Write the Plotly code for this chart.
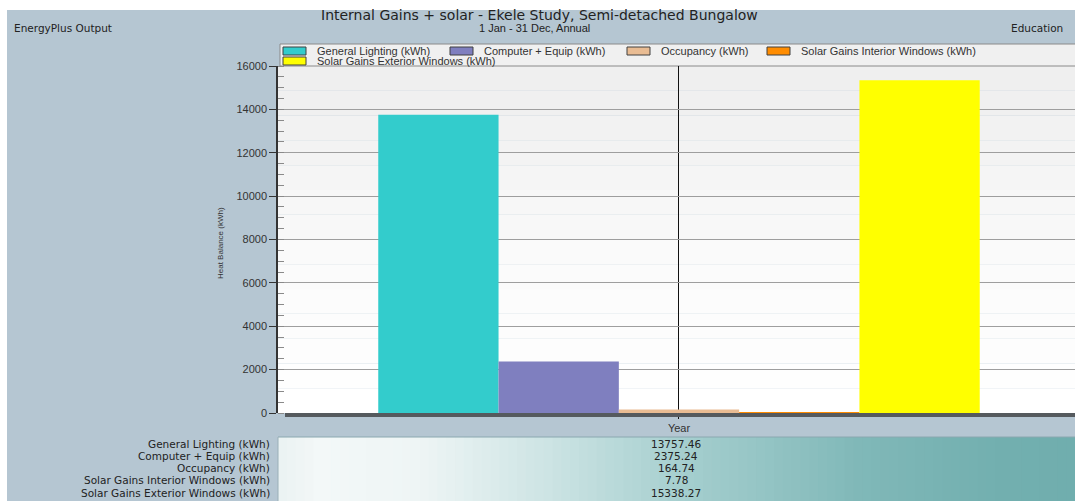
import plotly.graph_objects as go

# ---------------- data ----------------
categories = ["Year"]
series_names = [
    "General Lighting (kWh)",
    "Computer + Equip (kWh)",
    "Occupancy (kWh)",
    "Solar Gains Interior Windows (kWh)",
    "Solar Gains Exterior Windows (kWh)",
]
series_values = [13757.46, 2375.24, 164.74, 7.78, 15338.27]
series_colors = ["#33cccc", "#7f7fbf", "#e9bc93", "#ff8c00", "#ffff00"]
y_ticks = [0, 2000, 4000, 6000, 8000, 10000, 12000, 14000, 16000]

title_text = "Internal Gains + solar - Ekele Study, Semi-detached Bungalow"
subtitle_text = "1 Jan - 31 Dec, Annual"
left_header = "EnergyPlus Output"
right_header = "Education"
y_title = "Heat Balance (kWh)"

# ---------------- layout geometry (pixels) ----------------
W, H = 1075, 501
ML, MR, MT, MB = 278, 0, 66, 88
PW, PH = W - ML - MR, H - MT - MB
FONT = "Arial, Liberation Sans, sans-serif"
WIDE = "DejaVu Sans, Verdana, sans-serif"


def px(x):
    return (x - ML) / PW


def py(y):
    return (H - MB - y) / PH


def lerp_color(stops, x):
    for (x0, c0), (x1, c1) in zip(stops[:-1], stops[1:]):
        if x0 <= x <= x1:
            t = (x - x0) / (x1 - x0) if x1 > x0 else 0
            a = [int(c0[i:i + 2], 16) for i in (1, 3, 5)]
            b = [int(c1[i:i + 2], 16) for i in (1, 3, 5)]
            return "#%02x%02x%02x" % tuple(round(a[k] + (b[k] - a[k]) * t) for k in range(3))
    return stops[-1][1]


fig = go.Figure()
for name, val, col in zip(series_names, series_values, series_colors):
    fig.add_trace(go.Bar(
        x=categories, y=[val], name=name,
        marker=dict(color=col, line=dict(width=0)),
        showlegend=False,
        hovertemplate=name + ": %{y:.2f}<extra></extra>",
    ))

shapes = []
annotations = []

# white top / left strips
shapes.append(dict(type="rect", xref="paper", yref="paper", x0=px(0), x1=px(W), y0=py(10), y1=py(0),
                   fillcolor="#ffffff", line=dict(width=0), layer="below"))
shapes.append(dict(type="rect", xref="paper", yref="paper", x0=px(0), x1=px(7), y0=py(H), y1=py(0),
                   fillcolor="#ffffff", line=dict(width=0), layer="below"))

# plot area vertical gradient
nb = 14
for i in range(nb):
    y0 = MT + PH * i / nb
    y1 = MT + PH * (i + 1) / nb
    c = lerp_color([(MT, "#eeeeee"), (MT + PH * 0.6, "#fbfbfb"), (MT + PH, "#ffffff")], (y0 + y1) / 2)
    shapes.append(dict(type="rect", xref="paper", yref="paper", x0=0, x1=1, y0=py(y1), y1=py(y0),
                       fillcolor=c, line=dict(width=0), layer="below"))

# legend box
shapes.append(dict(type="rect", xref="paper", yref="paper", x0=px(280), x1=px(W + 2), y0=py(MT), y1=py(44),
                   fillcolor="#f0f0f0", line=dict(color="#8a8a8a", width=1), layer="below"))
legend_pos = [(283, 51), (450, 51), (627, 51), (767, 51), (283, 61)]
for (lx, ly), name, col in zip(legend_pos, series_names, series_colors):
    shapes.append(dict(type="rect", xref="paper", yref="paper", x0=px(lx), x1=px(lx + 23),
                       y0=py(ly + 4), y1=py(ly - 4), fillcolor=col,
                       line=dict(color="#404040", width=1)))
    annotations.append(dict(text=name, xref="paper", yref="paper", x=px(lx + 33), y=py(ly),
                            xanchor="left", yanchor="middle", showarrow=False, borderpad=0,
                            font=dict(family=FONT, size=11, color="#333333")))

# shadow under plot
shapes.append(dict(type="rect", xref="paper", yref="paper", x0=px(285), x1=px(W + 2), y0=py(417), y1=py(413),
                   fillcolor="#555a5e", line=dict(width=0)))

# data table box with horizontal gradient
tx0, tx1, ty0, ty1 = 278, W, 437, H
stops = [(278, "#eaf2f2"), (320, "#f3f8f8"), (420, "#eef5f5"), (540, "#cfe5e5"),
         (680, "#a6cfcf"), (860, "#80b8b8"), (1000, "#72afaf"), (1075, "#70aeae")]
nt = 90
for i in range(nt):
    x0 = tx0 + (tx1 - tx0) * i / nt
    x1 = tx0 + (tx1 - tx0) * (i + 1) / nt
    shapes.append(dict(type="rect", xref="paper", yref="paper", x0=px(x0), x1=px(x1) + 0.001,
                       y0=py(ty1), y1=py(ty0), fillcolor=lerp_color(stops, (x0 + x1) / 2),
                       line=dict(width=0), layer="below"))
shapes.append(dict(type="line", xref="paper", yref="paper", x0=px(tx0), x1=px(tx1), y0=py(ty0), y1=py(ty0),
                   line=dict(color="#8aa8b0", width=1)))
shapes.append(dict(type="line", xref="paper", yref="paper", x0=px(tx0), x1=px(tx0), y0=py(ty0), y1=py(ty1),
                   line=dict(color="#9ab0b8", width=1)))

row_y = [443.5, 455.8, 468.1, 480.4, 492.7]
for name, val, ry in zip(series_names, series_values, row_y):
    annotations.append(dict(text=name, xref="paper", yref="paper", x=px(271), y=py(ry),
                            xanchor="right", yanchor="middle", showarrow=False, borderpad=0,
                            font=dict(family=WIDE, size=10.5, color="#222222")))
    annotations.append(dict(text=f"{val:.2f}", xref="paper", yref="paper", x=px(676), y=py(ry),
                            xanchor="center", yanchor="middle", showarrow=False, borderpad=0,
                            font=dict(family=WIDE, size=10.5, color="#222222")))

# header texts
annotations += [
    dict(text=title_text, xref="paper", yref="paper", x=px(539), y=py(15), xanchor="center", yanchor="middle",
         showarrow=False, borderpad=0, font=dict(family=WIDE, size=14, color="#222222")),
    dict(text=subtitle_text, xref="paper", yref="paper", x=px(534), y=py(28), xanchor="center", yanchor="middle",
         showarrow=False, borderpad=0, font=dict(family=FONT, size=11, color="#222222")),
    dict(text=left_header, xref="paper", yref="paper", x=px(13), y=py(28), xanchor="left", yanchor="middle",
         showarrow=False, borderpad=0, font=dict(family=WIDE, size=10.5, color="#222222")),
    dict(text=right_header, xref="paper", yref="paper", x=px(1010), y=py(28), xanchor="left", yanchor="middle",
         showarrow=False, borderpad=0, font=dict(family=WIDE, size=10.5, color="#222222")),
    dict(text=y_title, xref="paper", yref="paper", x=px(220), y=py(243), xanchor="center", yanchor="middle",
         textangle=-90, showarrow=False, borderpad=0, font=dict(family=FONT, size=8, color="#333333")),
]

fig.update_layout(
    width=W, height=H,
    margin=dict(l=ML, r=MR, t=MT, b=MB, pad=0),
    paper_bgcolor="#b5c6d2",
    plot_bgcolor="rgba(0,0,0,0)",
    barmode="group", bargap=0.25, bargroupgap=0,
    showlegend=False,
    font=dict(family=FONT, color="#333333"),
    shapes=shapes, annotations=annotations,
    xaxis=dict(
        type="category", range=[-0.5, 0.4938], showgrid=True, gridcolor="#111111", gridwidth=1,
        ticks="outside", ticklen=5, tickcolor="#111111", showline=False, zeroline=False,
        tickfont=dict(family=FONT, size=11, color="#333333"), fixedrange=True,
    ),
    yaxis=dict(
        range=[0, 16000], tickvals=y_ticks, ticktext=[str(v) for v in y_ticks],
        showgrid=True, gridcolor="#9e9e9e", gridwidth=1,
        ticks="outside", ticklen=7, tickcolor="#333333", showline=True, linecolor="#333333", linewidth=1.5,
        zeroline=False, tickfont=dict(family=FONT, size=11, color="#333333"),
        minor=dict(ticks="inside", dtick=500, ticklen=6, tickcolor="#8a8a8a", showgrid=False),
        fixedrange=True,
    ),
)

fig.write_html("out.html", config={"displayModeBar": False},
               post_script="document.body.style.margin='0';document.body.style.overflow='hidden';")
